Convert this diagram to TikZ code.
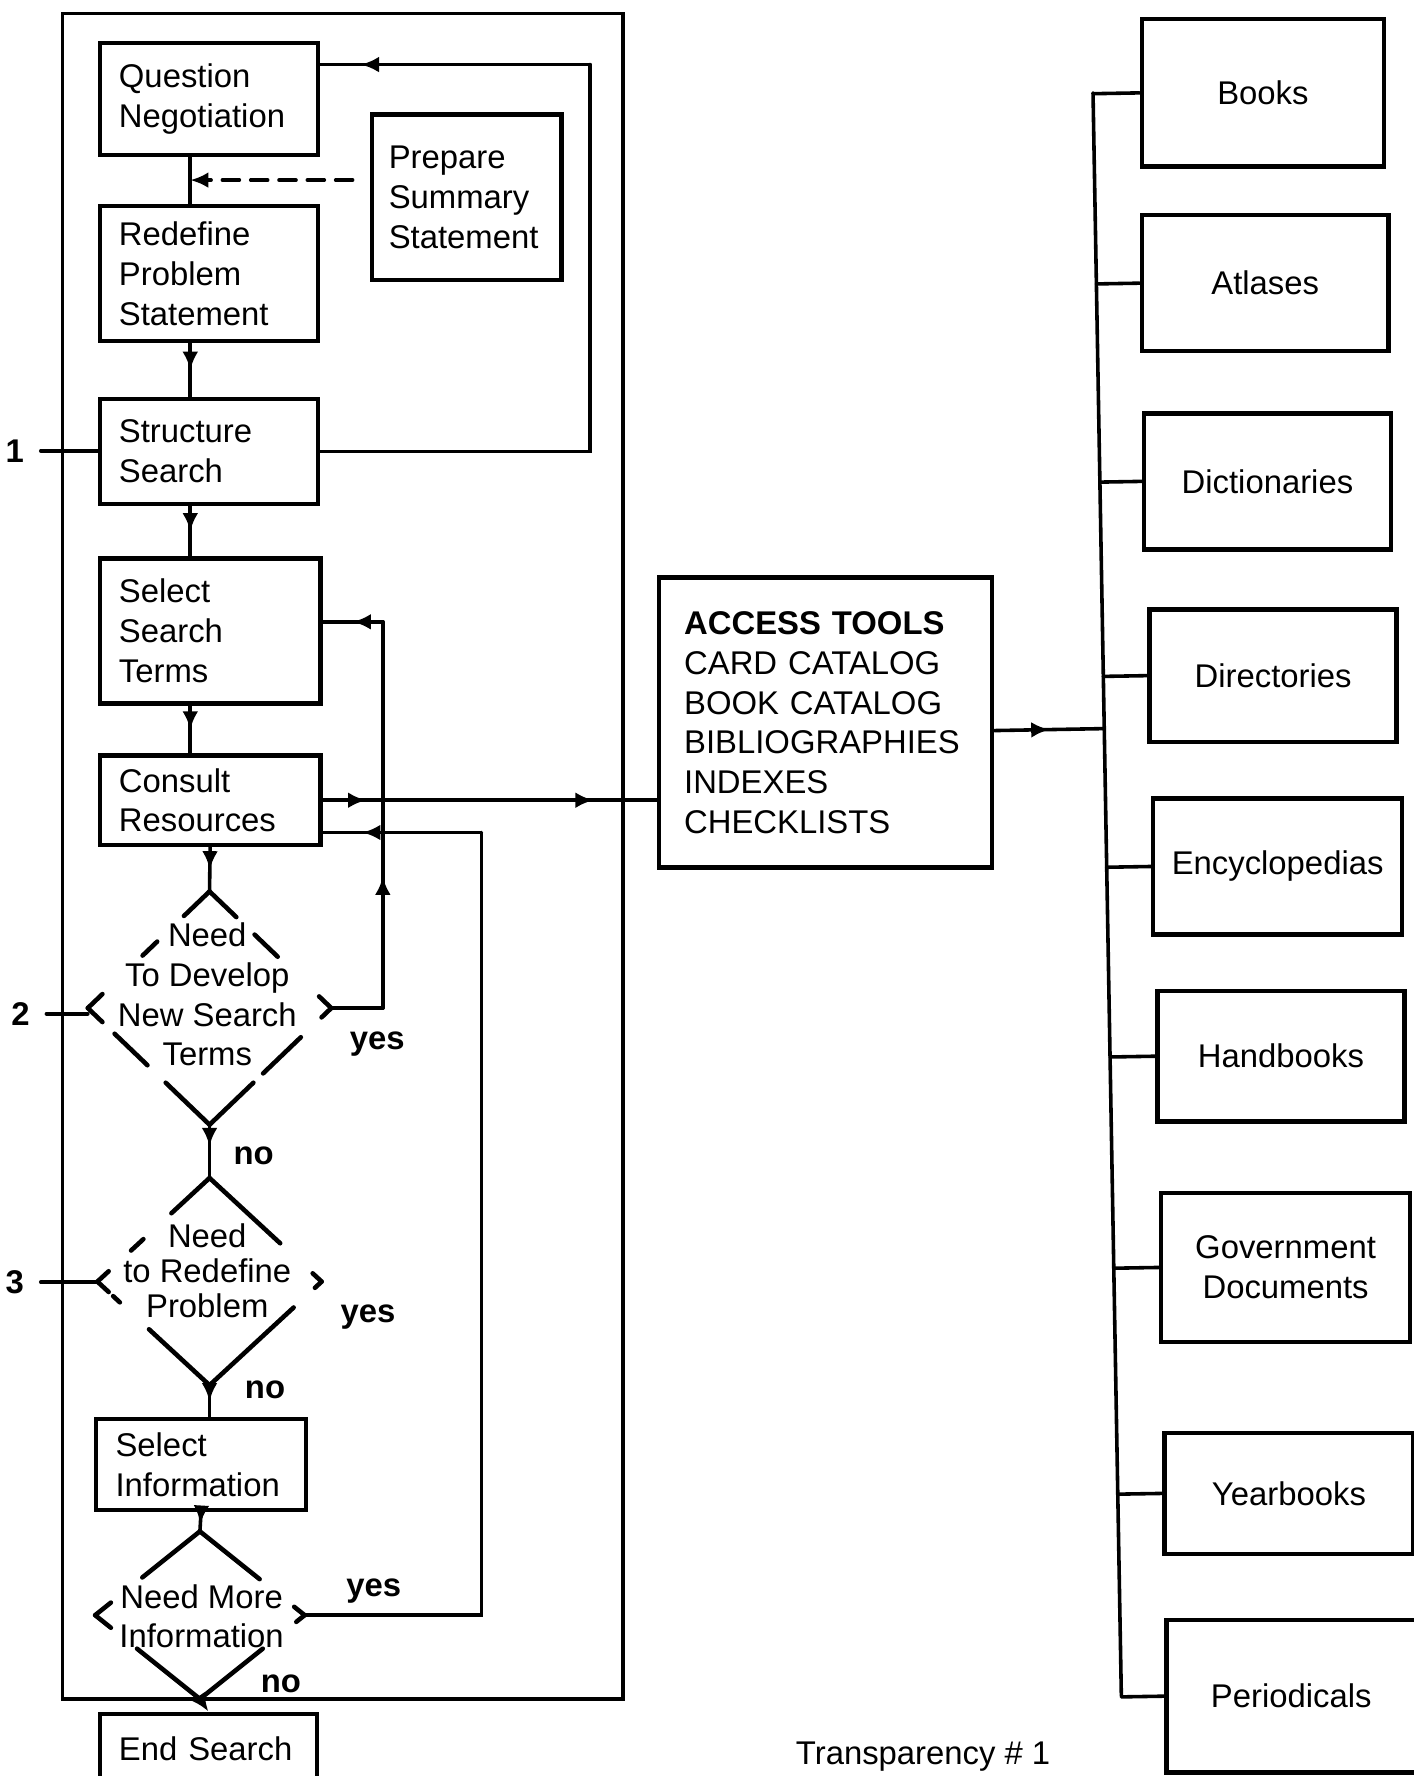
\documentclass[tikz,border=0pt]{standalone}
\usepackage{fontspec}
\setmainfont{Liberation Sans}
\usetikzlibrary{calc,arrows.meta,positioning,shapes.geometric,decorations.markings}
\newcommand{\flowfont}{\fontsize{16.5}{20}\selectfont}
\tikzset{
    every node/.style={font=\flowfont},
    flowtip/.tip={Latex[length=0.32cm,width=0.28cm]},
    box/.style={draw, line width=2.2pt, inner xsep=0.34cm, inner ysep=0pt, align=left},
    srcbox/.style={draw, line width=2.2pt, align=center, inner sep=0pt},
    decision/.style={diamond, inner sep=0pt, outer sep=0pt},
    flowline/.style={line width=1.8pt, line cap=round},
    midtip/.style={postaction={decorate}, decoration={markings, mark=at position #1 with {\arrow{flowtip}}}},
    midtip/.default=0.5,
    twotip/.style 2 args={postaction={decorate}, decoration={markings,
        mark=at position #1 with {\arrow{flowtip}}, mark=at position #2 with {\arrow{flowtip}}}}
}

\begin{document}
\begin{tikzpicture}[x=0.02cm, y=-0.02cm, flowline]

    \useasboundingbox (0,0) rectangle (1248,1568);

    % frame round the search steps
    \draw (55,12) rectangle (550,1500);

    % steps
    \node[box, text width=3.18cm, minimum height=1.98cm] (qn) at (184.5,87.5) {Question\\Negotiation};
    \node[box, inner xsep=0.3cm, text width=2.75cm, minimum height=2.92cm] (pss) at (412,174) {Prepare\\Summary\\Statement};
    \node[box, text width=3.18cm, minimum height=2.38cm] (rps) at (184.5,241.5) {Redefine\\Problem\\Statement};
    \node[box, text width=3.18cm, minimum height=1.86cm] (ss) at (184.5,398.5) {Structure\\Search};
    \node[box, text width=3.22cm, minimum height=2.56cm] (sst) at (185.5,557) {Select\\Search\\Terms};
    \node[box, text width=3.22cm, minimum height=1.58cm] (cr) at (185.5,706.5) {Consult\\Resources};
    \node[box, text width=3.02cm, minimum height=1.6cm] (si) at (177.5,1293) {Select\\Information};
    \node[box, text width=3.16cm, minimum height=1.24cm] (es) at (184,1544) {End Search};

    % decisions
    \node[decision, minimum width=4.3cm, minimum height=4.12cm] (d1) at (185,890) {};
    \node[decision, minimum width=3.96cm, minimum height=3.66cm] (d2) at (185,1131.5) {};
    \node[decision, minimum width=3.7cm, minimum height=2.96cm] (d3) at (176.5,1426) {};
    \node[align=center] (d1txt) at (183,878) {Need\\To Develop\\New Search\\Terms};
    \node[align=center, font=\fontsize{16.5}{17.5}\selectfont] (d2txt) at (183,1122) {Need\\to Redefine\\Problem};
    \node[align=center] (d3txt) at (178,1427) {Need More\\Information};

    \begin{scope}[line width=2.3pt]
    \foreach \a/\b/\s/\e in {north/west/0/0.21, north/west/0.43/0.55, north/west/0.88/1,
                             west/south/0/0.12, west/south/0.22/0.49, west/south/0.64/1,
                             north/east/0/0.22, north/east/0.37/0.56, north/east/0.9/1,
                             east/south/0/0.08, east/south/0.25/0.56, east/south/0.64/1}
        \draw ($(d1.\a)!\s!(d1.\b)$) -- ($(d1.\a)!\e!(d1.\b)$);
    \foreach \a/\b/\s/\e in {north/west/0/0.34, north/west/0.59/0.7, north/west/0.9/1,
                             west/south/0/0.1, west/south/0.14/0.2, west/south/0.46/1,
                             north/east/0/0.63, north/east/0.92/1,
                             east/south/0/0.06, east/south/0.25/1}
        \draw ($(d2.\a)!\s!(d2.\b)$) -- ($(d2.\a)!\e!(d2.\b)$);
    \foreach \a/\b/\s/\e in {north/west/0/0.55, north/west/0.85/1,
                             west/south/0/0.15, west/south/0.4/1,
                             north/east/0/0.57, north/east/0.9/1,
                             east/south/0/0.08, east/south/0.4/1}
        \draw ($(d3.\a)!\s!(d3.\b)$) -- ($(d3.\a)!\e!(d3.\b)$);
    \end{scope}

    % main flow
    \coordinate (spine) at (168,0);
    \draw (qn.south -| spine) -- (rps.north -| spine);
    \draw[midtip] (rps.south -| spine) -- (ss.north -| spine);
    \draw[midtip] (ss.south -| spine) -- (sst.north -| spine);
    \draw[midtip] (sst.south -| spine) -- (cr.north -| spine);
    \draw[midtip] (cr.south) -- (d1.north);
    \draw[midtip=0.4] (d1.south) -- (d2.north);
    \draw[midtip] (d2.south) -- (d2.south |- si.north);
    \draw[midtip=0.6] (si.south) -- (d3.north);
    \draw[-flowtip] (d3.south) -- (es.north);

    \draw[dash pattern=on 0.3cm off 0.2cm, -flowtip, shorten <=0.3cm] ([yshift=0.3cm]pss.west) -- ([yshift=0.3cm]pss.west -| spine);

    % loops back
    \coordinate (loopR) at (521,0);
    \coordinate (qin) at ([yshift=0.61cm]qn.east);
    \draw (ss.east) -| (qin -| loopR);
    \draw[midtip=0.85] (qin -| loopR) -- (qin);

    \coordinate (yesA) at (338,0);
    \coordinate (sstin) at ([yshift=0.16cm]sst.east);
    \draw (d1.east) -- (d1.east -| yesA);
    \draw[midtip=0.34] (d1.east -| yesA) -- (sstin -| yesA);
    \draw[midtip] (sstin -| yesA) -- (sstin);

    \coordinate (yesC) at (425,0);
    \coordinate (crin) at ([yshift=-0.57cm]cr.east);
    \draw (d3.east) -| (crin -| yesC);
    \draw[midtip=0.75] (crin -| yesC) -- (crin);

    \node[font=\flowfont\bfseries] (yes1) at (333,922) {yes};
    \node[font=\flowfont\bfseries] (no1) at (224,1020) {no};
    \node[font=\flowfont\bfseries] (yes2) at (325,1163) {yes};
    \node[font=\flowfont\bfseries] (no2) at (234,1227) {no};
    \node[font=\flowfont\bfseries] (yes3) at (330,1405) {yes};
    \node[font=\flowfont\bfseries] (no3) at (248,1487) {no};

    % entry points
    \node[font=\flowfont\bfseries] (n1) at (13,398) {1};
    \node[font=\flowfont\bfseries] (n2) at (18,895) {2};
    \node[font=\flowfont\bfseries] (n3) at (13,1132) {3};
    \draw[shorten <=0.15cm] (n1.east) -- (n1.east -| ss.west);
    \draw[shorten <=0.15cm] (n2.east) -- (n2.east -| d1.west);
    \draw[shorten <=0.15cm] (n3.east) -- (n3.east -| d2.west);

    % access tools
    \node[box, inner xsep=0.44cm, text width=5cm, minimum height=5.12cm] (at) at (729,638)
        {\textbf{ACCESS TOOLS}\\CARD CATALOG\\BOOK CATALOG\\BIBLIOGRAPHIES\\INDEXES\\CHECKLISTS};
    \draw[twotip={0.13}{0.81}] (cr.east) -- (cr.east -| at.west);

    % sources
    \node[srcbox, minimum width=4.28cm, minimum height=2.6cm] (books) at (1115,82) {Books};
    \node[srcbox, minimum width=4.36cm, minimum height=2.4cm] (atlases) at (1117,250) {Atlases};
    \node[srcbox, minimum width=4.36cm, minimum height=2.4cm] (dict) at (1119,425) {Dictionaries};
    \node[srcbox, minimum width=4.36cm, minimum height=2.34cm] (direct) at (1124,596.5) {Directories};
    \node[srcbox, minimum width=4.4cm, minimum height=2.4cm] (ency) at (1128,765) {Encyclopedias};
    \node[srcbox, minimum width=4.36cm, minimum height=2.3cm] (hand) at (1131,932.5) {Handbooks};
    \node[srcbox, minimum width=4.4cm, minimum height=2.64cm] (gov) at (1135,1119) {Government\\Documents};
    \node[srcbox, minimum width=4.4cm, minimum height=2.14cm] (year) at (1138,1318.5) {Yearbooks};
    \node[srcbox, minimum width=4.4cm, minimum height=2.7cm] (peri) at (1140,1497.5) {Periodicals};

    \coordinate (bt) at (965,82);
    \coordinate (bb) at (990,1497);
    \draw (bt) -- (bb);
    \foreach \n in {books,atlases,dict,direct,ency,hand,gov,year,peri}
        \draw (\n.west) -- ($(bt)!(\n.west)!(bb)$);
    \draw[midtip] ([yshift=-0.14cm]at.east) -- ($(bt)!([yshift=-0.14cm]at.east)!(bb)$);

    \node (cap) at (815,1551) {Transparency \# 1};

\end{tikzpicture}
\end{document}
